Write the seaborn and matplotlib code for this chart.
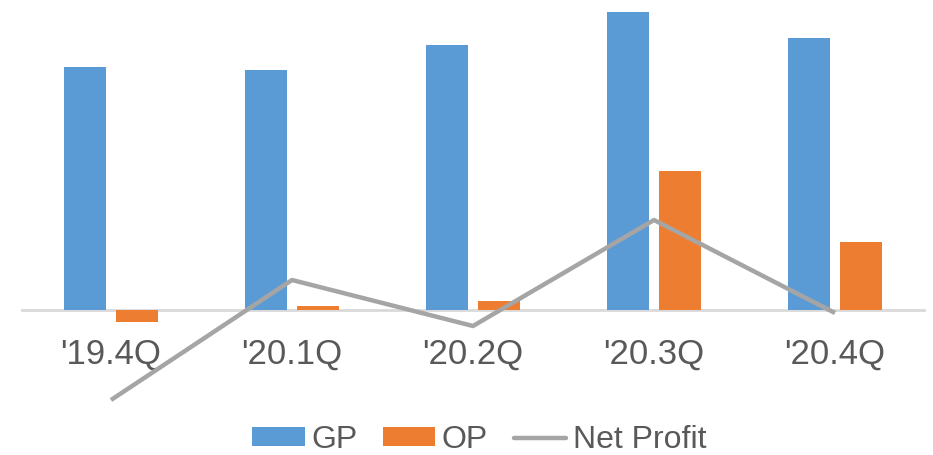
import matplotlib
matplotlib.use("Agg")
import matplotlib.pyplot as plt
import seaborn as sns
import numpy as np
import pandas as pd
from matplotlib.patches import Patch
from matplotlib.lines import Line2D

quarters = ["'19.4Q", "'20.1Q", "'20.2Q", "'20.3Q", "'20.4Q"]
gp = [243, 240, 265, 298, 272]
op = [-12, 4, 9, 139, 68]
net_profit = [-90, 30, -16, 90, -3]

GP_C = "#5B9BD5"
OP_C = "#ED7D31"
NP_C = "#A5A5A5"
TXT = "#595959"

sns.set_theme(style="white")
plt.rcParams['font.family'] = ['Liberation Sans', 'DejaVu Sans']

df = pd.DataFrame({
    "Quarter": quarters * 2,
    "Series": ["GP"] * len(quarters) + ["OP"] * len(quarters),
    "Value": gp + op,
})

fig = plt.figure(figsize=(9.33, 4.55), dpi=100)
ax = fig.add_axes([20.5 / 933, 50 / 455, 905 / 933, 400 / 455])

sns.barplot(data=df, x="Quarter", y="Value", hue="Series",
            palette={"GP": GP_C, "OP": OP_C}, width=0.575, gap=0.21,
            saturation=1, legend=False, ax=ax, zorder=2, linewidth=0,
            edgecolor="none")
ax.axhline(0, color="#D9D9D9", lw=2, zorder=1)
sns.pointplot(x=quarters, y=net_profit, color=NP_C, markers="", linestyles="-",
              ax=ax, zorder=3)
for l in ax.lines:
    if len(l.get_xdata()) == 5:
        l.set_linewidth(3.2)
        l.set_solid_capstyle("butt")

ax.set_ylim(-95, 305)
ax.set_xlim(-0.5, 4.5)
ax.set_xlabel("")
ax.set_ylabel("")
ax.set_yticks([])
ax.spines["bottom"].set_position(("data", 0))
ax.tick_params(axis="x", length=0, pad=20, labelsize=25, labelcolor=TXT)
for s in ax.spines.values():
    s.set_visible(False)

handles = [Patch(facecolor=GP_C, edgecolor="none"),
           Patch(facecolor=OP_C, edgecolor="none"),
           Line2D([0], [0], color=NP_C, lw=3.2)]
fig.legend(handles, ["GP", "OP", "Net Profit"], loc="center",
           bbox_to_anchor=(479 / 933, 1 - 440 / 455), ncol=3, frameon=False,
           fontsize=23, labelcolor=TXT, handlelength=1.65, handleheight=0.55,
           handletextpad=0.2, columnspacing=0.8)

fig.savefig("out.png", dpi=100)
